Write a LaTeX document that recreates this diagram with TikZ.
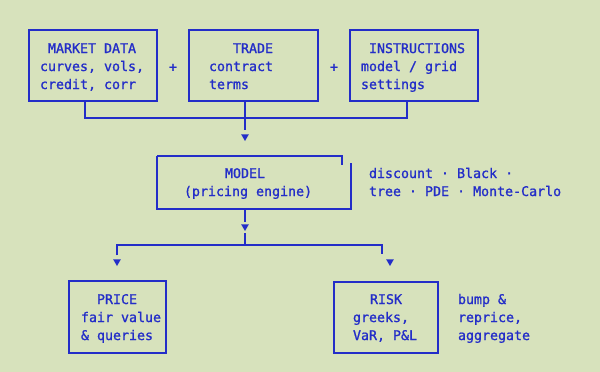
\documentclass[tikz,border=0pt]{standalone}
\usepackage{fontspec}
\setmonofont{DejaVu Sans Mono}[BoldFont=DejaVu Sans Mono, BoldFeatures={FakeBold=1.2}]
\usetikzlibrary{shapes.geometric}
\definecolor{bg}{RGB}{215,226,188}
\definecolor{ink}{RGB}{35,45,200}
\begin{document}
\begin{tikzpicture}[x=1pt,y=-1pt,
  txt/.style={anchor=base west, inner sep=0pt, outer sep=0pt, text=ink, font=\ttfamily\bfseries\fontsize{13.3}{18}\selectfont},
  box/.style={draw=ink, line width=1.5pt, inner sep=0pt, outer sep=0pt, anchor=north west},
  hidden/.style={inner sep=0pt, outer sep=0pt, anchor=north west},
  wire/.style={draw=ink, line width=1.5pt},
  tri/.style={regular polygon, regular polygon sides=3, shape border rotate=180, fill=ink, inner sep=0pt, outer sep=0pt, minimum size=9pt}]
\fill[bg] (0,0) rectangle (600,372);
\useasboundingbox (0,0) rectangle (600,372);

% top boxes
\node[box, minimum width=128pt, minimum height=71pt] (md) at (29,30) {};
\node[box, minimum width=129pt, minimum height=71pt] (tr) at (189,30) {};
\node[box, minimum width=128pt, minimum height=71pt] (ins) at (350,30) {};

\node[txt] (md1) at (48,53) {MARKET DATA};
\node[txt] (md2) at (40,71) {curves, vols,};
\node[txt] (md3) at (40,89) {credit, corr};

\node[txt] (tr1) at (233,53) {TRADE};
\node[txt] (tr2) at (209,71) {contract};
\node[txt] (tr3) at (209,89) {terms};

\node[txt] (in1) at (369,53) {INSTRUCTIONS};
\node[txt] (in2) at (361,71) {model / grid};
\node[txt] (in3) at (361,89) {settings};

\node[txt, anchor=base] (p1) at (173,71.5) {+};
\node[txt, anchor=base] (p2) at (334,71.5) {+};

% model box
\node[hidden, minimum width=194pt, minimum height=53pt] (model) at (157,156) {};
\draw[wire] (model.north west) -- (342,156) -- (342,165);
\draw[wire] (351,163) -- (model.south east) -- (model.south west) -- (model.north west);
\node[txt] (mo1) at (225,178) {MODEL};
\node[txt] (mo2) at (184,196) {(pricing engine)};
\node[txt] (ds1) at (369,178) {discount · Black ·};
\node[txt] (ds2) at (369,196) {tree · PDE · Monte-Carlo};

% bottom boxes
\node[box, minimum width=97pt, minimum height=72pt] (price) at (69,281) {};
\node[box, minimum width=104pt, minimum height=71pt] (risk) at (334,282) {};
\node[txt] (pr1) at (97,304) {PRICE};
\node[txt] (pr2) at (81,322) {fair value};
\node[txt] (pr3) at (81,340) {\& queries};
\node[txt] (rk1) at (370,304) {RISK};
\node[txt] (rk2) at (353,322) {greeks,};
\node[txt] (rk3) at (353,340) {VaR, P\&L};
\node[txt] (bp1) at (458,304) {bump \&};
\node[txt] (bp2) at (458,322) {reprice,};
\node[txt] (bp3) at (458,340) {aggregate};

% arrows
\node[tri] (a1) at (245,136.5) {};
\node[tri] (a2) at (245,226.5) {};
\node[tri] (a3) at (117,261.5) {};
\node[tri] (a4) at (390,261.5) {};
\coordinate (j1) at (245,118);
\coordinate (j2) at (245,245);
\coordinate (c4) at (382,245);

% top connectors
\draw[wire] ([xshift=-8pt]md.south) |- (j1) -| ([xshift=-7pt]ins.south);
\draw[wire, shorten >=4pt] ([xshift=-8.5pt]tr.south) -- (a1.north);
% model to results
\draw[wire, shorten >=2pt] (a2 |- model.south) -- (a2.north);
\draw[wire, shorten <=2pt] (a2.south) -- (j2);
\draw[wire, shorten <=4pt, shorten >=5pt] (a3.north) |- (c4) -- (c4 |- a4.north);
\end{tikzpicture}
\end{document}
